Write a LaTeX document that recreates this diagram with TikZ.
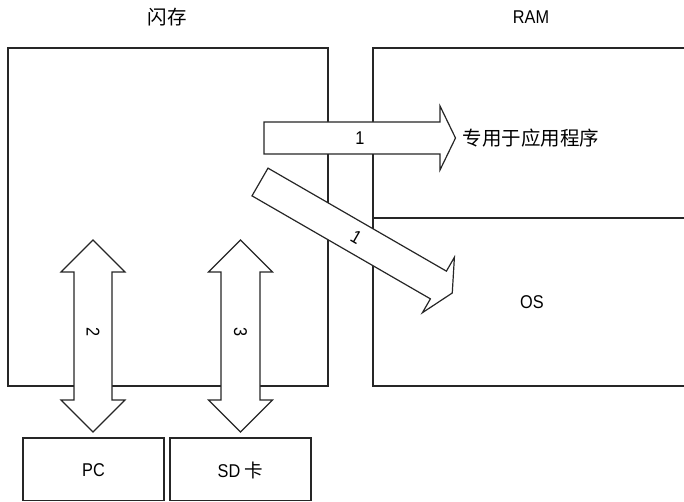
\documentclass[tikz,border=0pt]{standalone}
\usepackage{fontspec}
\setmainfont{Liberation Sans}
\newfontfamily\narrowsans[FakeStretch=0.88]{Liberation Sans}
\newfontfamily\cjk{Noto Sans CJK SC}
\begin{document}
\begin{tikzpicture}[x=1pt,y=-1pt,
  line width=1.2pt,
  box/.style={draw=black!85},
  arrowshape/.style={draw=black!85,fill=white,line join=miter},
  lbl/.style={font=\fontsize{18.5}{18.5}\selectfont\narrowsans,inner sep=0pt},
  cjklbl/.style={font=\fontsize{19.5}{19.5}\selectfont\cjk,inner sep=0pt}]
\useasboundingbox (0,0) rectangle (684,502);
% memory boxes
\draw[box] (8,48) rectangle (328,386);
\draw[box] (684,48) -- (373,48) -- (373,386) -- (684,386);
\draw[box] (373,218) -- (684,218);
% titles
\node[cjklbl] (flash) at (167,17) {闪存};
\node[lbl] (ram) at (531,17) {RAM};
\node[lbl] (os) at (532,302) {OS};
% horizontal arrow 1
\draw[arrowshape] (264,122) -- (440,122) -- (440,106) -- (455.5,138) -- (440,170) -- (440,154) -- (264,154) -- cycle;
\node[lbl] (a1) at (360,138) {1};
\node[cjklbl,anchor=west] (app) at (462,138) {专用于应用程序};
% diagonal arrow 1
\begin{scope}[shift={(260,182)},rotate=-30]
\draw[arrowshape] (0,-16) -- (206,-16) -- (206,-32) -- (222,0) -- (206,32) -- (206,16) -- (0,16) -- cycle;
\node[lbl,rotate=-30] (b1) at (111,0) {1};
\end{scope}
% double arrows
\draw[arrowshape] (93,240) -- (125,272) -- (112,272) -- (112,400) -- (125,400) -- (93,432) -- (61,400) -- (74,400) -- (74,272) -- (61,272) -- cycle;
\node[lbl,rotate=-90] (c2) at (93,332) {2};
\draw[arrowshape] (240.5,240) -- (272.5,272) -- (260,272) -- (260,400) -- (272.5,400) -- (240.5,432) -- (208.5,400) -- (221,400) -- (221,272) -- (208.5,272) -- cycle;
\node[lbl,rotate=-90] (c3) at (240.5,332) {3};
% devices
\draw[box] (23,438) rectangle (164,500.5);
\node[lbl] (pc) at (93.5,470) {PC};
\draw[box] (170,438) rectangle (311,500.5);
\node[lbl] (sd) at (240.5,470) {SD {\cjk 卡}};
\end{tikzpicture}
\end{document}
